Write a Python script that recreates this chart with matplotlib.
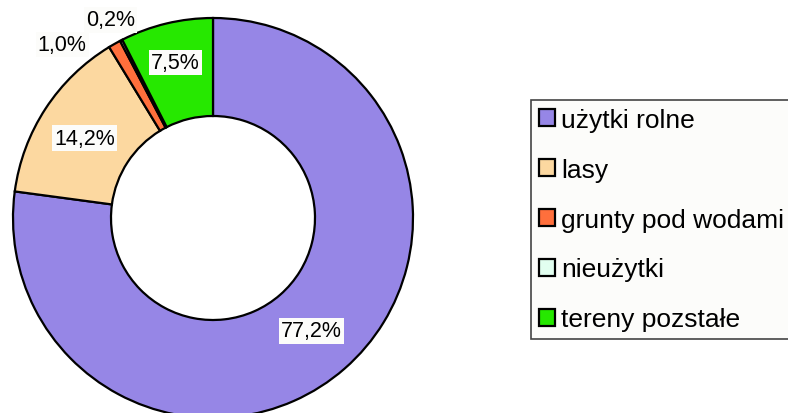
import matplotlib
matplotlib.use("Agg")
import matplotlib.pyplot as plt
import numpy as np
from matplotlib.patches import Patch

categories = ["użytki rolne", "lasy", "grunty pod wodami", "nieużytki", "tereny pozstałe"]
values = [77.2, 14.2, 1.0, 0.2, 7.5]
labels = ["77,2%", "14,2%", "1,0%", "0,2%", "7,5%"]
colors = ["#9686e6", "#fcd8a0", "#ff6f3c", "#e2fff0", "#26e800"]

plt.rcParams['font.family'] = ['Liberation Sans', 'DejaVu Sans']

W, H = 788, 414
fig = plt.figure(figsize=(W / 100, H / 100), dpi=100)
fig.patch.set_facecolor("white")
ax = fig.add_axes([0, 0, 1, 1])

cx, cy = 213, H - 219
R, ring = 200, 98
wedges, _ = ax.pie(values, colors=colors, startangle=90, counterclock=False,
                   radius=R, center=(cx, cy),
                   wedgeprops=dict(width=ring, edgecolor="black", linewidth=1.6))
ax.set_xlim(0, W)
ax.set_ylim(0, H)
ax.set_aspect("equal")
ax.axis("off")

# label placement: radial distance (px) and angular offset (deg)
label_r = [150, 151, 230, 223, 160]
label_da = [0, 1.2, 11.5, 0, 0]
total = sum(values)
start = 90.0
for v, lab, r, da in zip(values, labels, label_r, label_da):
    span = v / total * 360
    mid = start - span / 2 + da
    start -= span
    x = cx + r * np.cos(np.radians(mid))
    y = cy + r * np.sin(np.radians(mid))
    ax.text(x, y, lab, ha="center", va="center", fontsize=15.5,
            bbox=dict(boxstyle="square,pad=0.1", facecolor="#fcfcfa", edgecolor="none"))

handles = [Patch(facecolor=c, edgecolor="black", linewidth=1.6) for c in colors]
leg = ax.legend(handles, categories, loc="upper left",
                bbox_to_anchor=(531 / W, 1 - 101 / H), bbox_transform=fig.transFigure,
                fontsize=19, frameon=True, fancybox=False, borderpad=0.3,
                handlelength=0.62, handleheight=0.62, handletextpad=0.22,
                labelspacing=0.98, borderaxespad=0)
leg.get_frame().set_edgecolor("#444444")
leg.get_frame().set_linewidth(1.2)
leg.get_frame().set_facecolor("#fcfcfa")
leg.get_frame().set_alpha(1)

fig.savefig("out.png", dpi=100)
